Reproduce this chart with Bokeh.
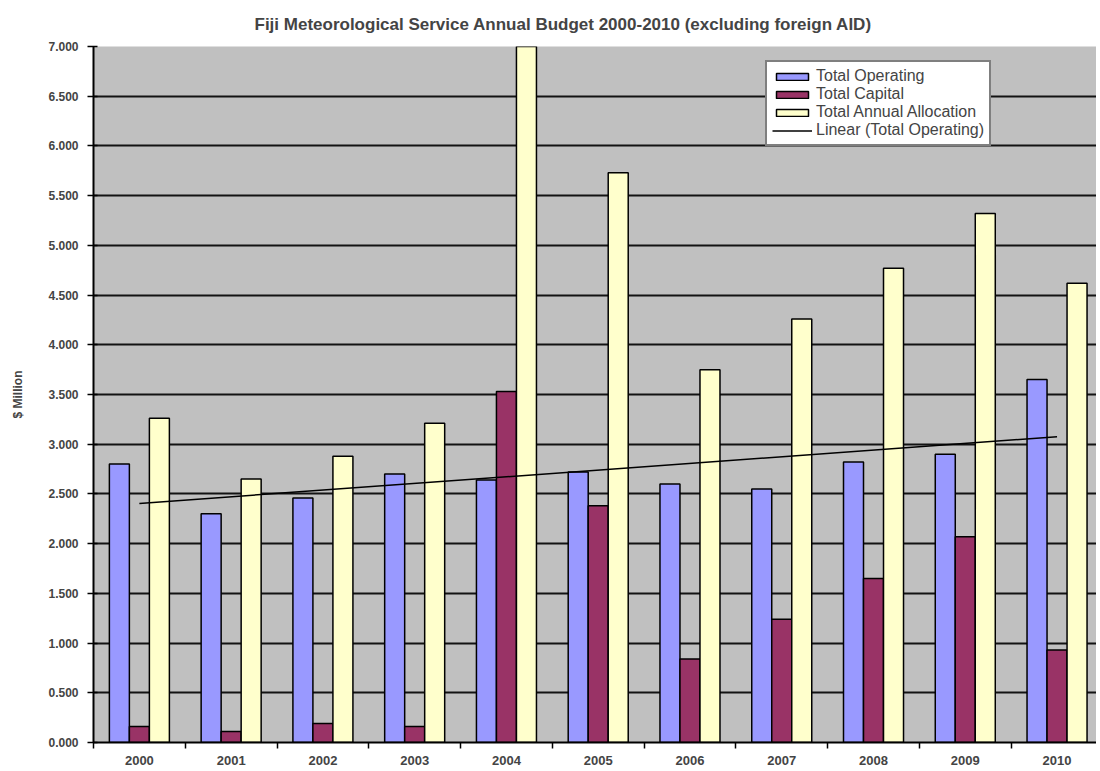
import numpy as np
from bokeh.plotting import figure
from bokeh.models import Range1d, FixedTicker, PrintfTickFormatter, Legend, LegendItem
from bokeh.embed import file_html
from bokeh.resources import INLINE

years = ["2000", "2001", "2002", "2003", "2004", "2005", "2006", "2007", "2008", "2009", "2010"]
total_operating = [2.80, 2.30, 2.46, 2.70, 2.64, 2.72, 2.60, 2.55, 2.82, 2.90, 3.65]
total_capital = [0.16, 0.11, 0.19, 0.16, 3.53, 2.38, 0.84, 1.24, 1.65, 2.07, 0.93]
total_allocation = [3.26, 2.65, 2.88, 3.21, 7.00, 5.73, 3.75, 4.26, 4.77, 5.32, 4.62]
y_ticks = [0.0, 0.5, 1.0, 1.5, 2.0, 2.5, 3.0, 3.5, 4.0, 4.5, 5.0, 5.5, 6.0, 6.5, 7.0]

FONT = "Liberation Sans"
n = len(years)
centers = np.arange(n) + 0.5
w = 0.218

p = figure(width=1096, height=768, output_backend="svg", toolbar_location=None,
           x_range=Range1d(0, 10.93), y_range=Range1d(0, 7.0),
           min_border_left=93, min_border_right=0, min_border_top=45, min_border_bottom=26,
           title="Fiji Meteorological Service Annual Budget 2000-2010 (excluding foreign AID)")
p.title.align = "left"
p.title.offset = 161
p.title.standoff = 25
p.title.text_font = FONT
p.title.text_font_size = "17px"
p.title.text_font_style = "bold"
p.background_fill_color = "#C0C0C0"
p.border_fill_color = "white"
p.outline_line_color = None

r1 = p.vbar(x=centers - w, top=total_operating, width=w, fill_color="#9999FF", line_color="black", line_width=1.5)
r2 = p.vbar(x=centers, top=total_capital, width=w, fill_color="#993366", line_color="black", line_width=1.5)
r3 = p.vbar(x=centers + w, top=total_allocation, width=w, fill_color="#FFFFCC", line_color="black", line_width=1.5)

xi = np.arange(n, dtype=float)
slope, intercept = np.polyfit(xi, np.array(total_operating), 1)
trend_x = [centers[0], centers[-1]]
trend_y = [intercept, intercept + slope * (n - 1)]
r4 = p.line(trend_x, trend_y, line_color="black", line_width=1.5)

# grid
p.xgrid.grid_line_color = None
p.ygrid.ticker = FixedTicker(ticks=y_ticks)
p.ygrid.grid_line_color = "black"
p.ygrid.grid_line_width = 2
p.ygrid.grid_line_alpha = 0.9

# y axis
p.yaxis.ticker = FixedTicker(ticks=y_ticks)
p.yaxis.formatter = PrintfTickFormatter(format="%.3f")
p.yaxis.axis_label = "$ Million"
p.yaxis.axis_label_text_font = FONT
p.yaxis.axis_label_text_font_size = "12px"
p.yaxis.axis_label_text_font_style = "bold"
p.yaxis.axis_label_standoff = 20
p.yaxis.major_label_text_font = FONT
p.yaxis.major_label_text_font_size = "12px"
p.yaxis.major_label_text_font_style = "bold"
p.yaxis.major_label_standoff = 9
p.yaxis.major_tick_out = 6
p.yaxis.major_tick_in = 4
p.yaxis.minor_tick_line_color = None
p.yaxis.axis_line_width = 2
p.yaxis.major_tick_line_width = 1.5

# x axis
p.xaxis.ticker = FixedTicker(ticks=list(centers), minor_ticks=list(range(0, n + 1)))
p.xaxis.major_label_overrides = {float(c): y for c, y in zip(centers, years)}
p.xaxis.major_tick_line_color = None
p.xaxis.minor_tick_out = 6
p.xaxis.minor_tick_in = 0
p.xaxis.minor_tick_line_width = 1.5
p.xaxis.axis_line_width = 2
p.xaxis.major_label_text_font = FONT
p.xaxis.major_label_text_font_size = "13px"
p.xaxis.major_label_text_font_style = "bold"
p.xaxis.major_label_standoff = 7

legend = Legend(items=[
    LegendItem(label="Total Operating", renderers=[r1]),
    LegendItem(label="Total Capital", renderers=[r2]),
    LegendItem(label="Total Annual Allocation", renderers=[r3]),
    LegendItem(label="Linear (Total Operating)", renderers=[r4]),
], location=(672, 596))
legend.label_text_font = FONT
legend.label_text_font_size = "16px"
legend.label_height = 14
legend.glyph_height = 9
legend.glyph_width = 40
legend.spacing = -1
legend.padding = 5
legend.margin = 0
legend.border_line_color = "black"
legend.border_line_width = 2
legend.background_fill_color = "white"
legend.background_fill_alpha = 1
legend.label_standoff = 4
p.add_layout(legend, "center")

open("out.html", "w").write(file_html(p, INLINE))
